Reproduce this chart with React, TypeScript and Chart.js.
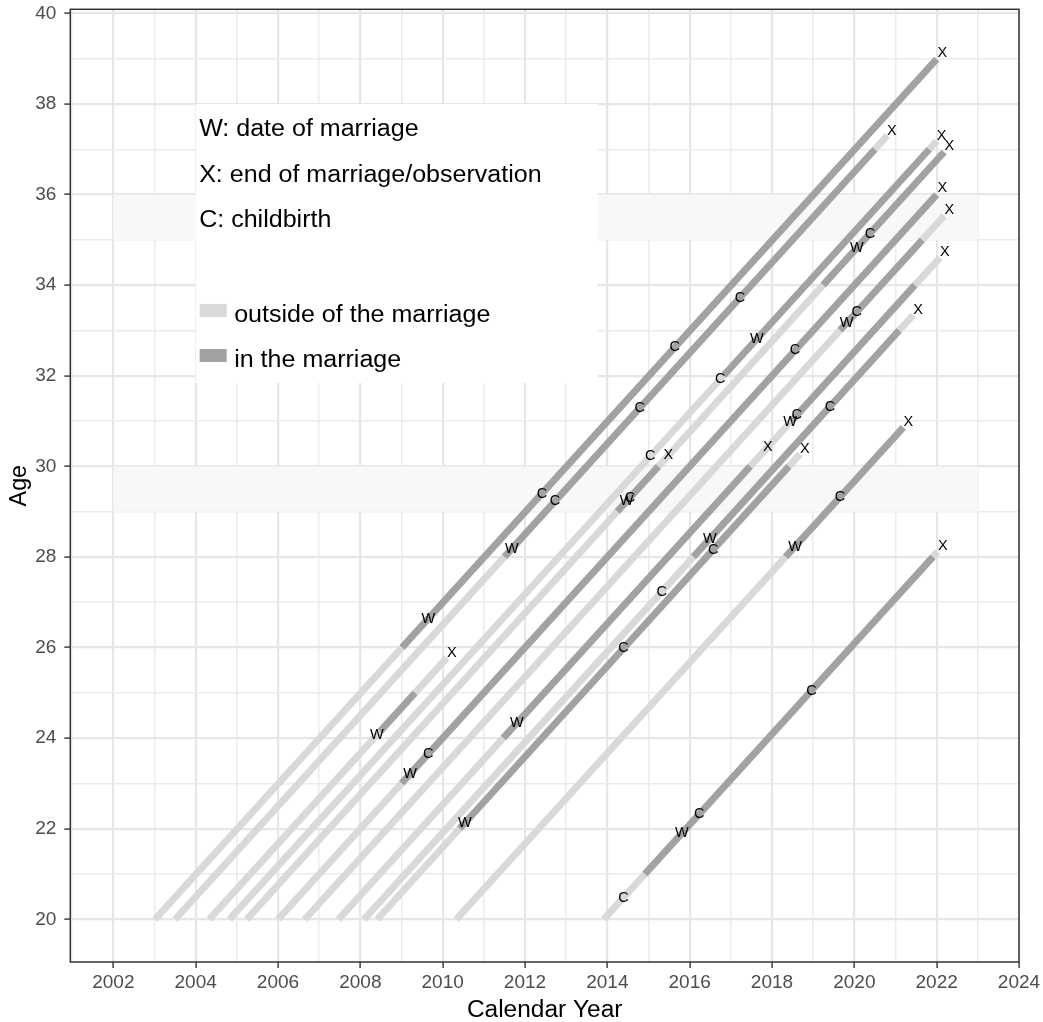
import React, { useEffect, useRef } from 'react';
import { Chart, registerables } from 'chart.js';

Chart.register(...registerables);

// ---------------- data ----------------
// calendar year at which each person is 20 (start of observation)
const personStart = [2003.01, 2003.5, 2004.33, 2004.82, 2005.24, 2006.0, 2006.65, 2007.47, 2008.09, 2008.41, 2010.33, 2013.91];

// breakpoints (calendar years) of the coloured pieces of each life line
const segmentBreaks = [
  [2003.01, 2009.01, 2022.0],
  [2003.5, 2011.5, 2020.5, 2020.8],
  [2004.33, 2008.48, 2009.33, 2010.1],
  [2004.82, 2016.82, 2021.82, 2022.0],
  [2005.24, 2014.24, 2015.24, 2019.24, 2022.18],
  [2006.0, 2009.0, 2022.0],
  [2006.65, 2019.65, 2021.65, 2022.18],
  [2007.47, 2011.47, 2017.47, 2018.47, 2021.47, 2022.08],
  [2008.09, 2016.09, 2021.09, 2021.43],
  [2008.41, 2010.41, 2018.41, 2018.68],
  [2010.33, 2018.33, 2021.19],
  [2013.91, 2014.91, 2021.91, 2022.02],
];
// 0 = outside of the marriage, 1 = in the marriage
const segmentStatus = [
  [0, 1],
  [0, 1, 0],
  [0, 1, 0],
  [0, 1, 0],
  [0, 1, 0, 1],
  [0, 1],
  [0, 1, 0],
  [0, 1, 0, 1, 0],
  [0, 1, 0],
  [0, 1, 0],
  [0, 1],
  [0, 1, 0],
];

// events (W marriage, X end, C childbirth)
const eventPerson = [
  0, 0, 0, 0,
  1, 1, 1, 1, 1,
  2, 2,
  3, 3, 3, 3,
  4, 4, 4, 4, 4, 4,
  5, 5, 5, 5,
  6, 6, 6,
  7, 7, 7, 7, 7,
  8, 8, 8, 8,
  9, 9, 9, 9,
  10, 10, 10,
  11, 11, 11, 11, 11,
];
const eventYear = [
  2009.65, 2012.41, 2015.64, 2022.14,
  2011.68, 2012.73, 2014.79, 2017.22, 2020.91,
  2008.4, 2010.22,
  2015.04, 2016.74, 2017.63, 2022.12,
  2014.47, 2014.55, 2015.48, 2020.06, 2020.38, 2022.31,
  2009.21, 2009.65, 2018.56, 2022.14,
  2019.81, 2020.06, 2022.31,
  2011.8, 2017.9, 2018.44, 2018.6, 2022.2,
  2015.32, 2016.49, 2019.41, 2021.55,
  2010.54, 2014.39, 2016.57, 2018.8,
  2018.56, 2019.65, 2021.31,
  2014.39, 2015.81, 2016.23, 2018.96, 2022.15,
];
const eventType = [
  'W', 'C', 'C', 'X',
  'W', 'C', 'C', 'C', 'X',
  'W', 'X',
  'C', 'C', 'W', 'X',
  'W', 'C', 'X', 'W', 'C', 'X',
  'W', 'C', 'C', 'X',
  'W', 'C', 'X',
  'W', 'X', 'W', 'C', 'X',
  'C', 'W', 'C', 'X',
  'W', 'C', 'C', 'X',
  'W', 'C', 'X',
  'C', 'W', 'C', 'C', 'X',
];

const xTickLabels = ['2002', '2004', '2006', '2008', '2010', '2012', '2014', '2016', '2018', '2020', '2022', '2024'];
const yTickLabels = ['20', '22', '24', '26', '28', '30', '32', '34', '36', '38', '40'];

const legendNotes = ['W: date of marriage', 'X: end of marriage/observation', 'C: childbirth'];
const legendKeys = ['outside of the marriage', 'in the marriage'];

const xTitle = 'Calendar Year';
const yTitle = 'Age';

// ---------------- styles ----------------
const FONT = "'Liberation Sans', Arial, Helvetica, sans-serif";
const LIGHT = '#d9d9d9';
const DARK = '#a2a2a2';
const GRID = '#ebebeb';
const BORDER = '#333333';
const shadeBands = [
  [35, 36],
  [29, 30],
];
const shadeFrom = 2002;
const shadeTo = 2023;

function drawText(
  ctx: CanvasRenderingContext2D,
  text: string,
  x: number,
  y: number,
  size: number,
  align: CanvasTextAlign = 'left',
  sx = 1.075,
  baseline: CanvasTextBaseline = 'alphabetic',
) {
  ctx.save();
  ctx.translate(x, y);
  ctx.scale(sx, 1);
  ctx.font = `${size}px ${FONT}`;
  ctx.textAlign = align;
  ctx.textBaseline = baseline;
  ctx.fillText(text, 0, 0);
  ctx.restore();
}

const decorPlugin = {
  id: 'decor',
  beforeDatasetsDraw(chart: any) {
    const { ctx, scales } = chart;
    const x = scales.x;
    const y = scales.y;
    ctx.save();
    // faint bands
    ctx.fillStyle = '#f8f8f8';
    shadeBands.forEach(([a0, a1]) => {
      const l = x.getPixelForValue(shadeFrom);
      const r = x.getPixelForValue(shadeTo);
      const t = y.getPixelForValue(a1);
      const b = y.getPixelForValue(a0);
      ctx.fillRect(l, t, r - l, b - t);
    });
    // legend box
    const left = x.getPixelForValue(2004);
    const top = y.getPixelForValue(38);
    ctx.fillStyle = '#ffffff';
    ctx.fillRect(left, top, 402, 279);
    ctx.fillStyle = '#000000';
    const noteBase = [32, 77.7, 122.7];
    legendNotes.forEach((t, i) => drawText(ctx, t, left + 3.5, top + noteBase[i], 23.3));
    const keyTop = [200, 245];
    const keyBase = [217.7, 262.7];
    legendKeys.forEach((t, i) => {
      ctx.fillStyle = i === 0 ? LIGHT : DARK;
      ctx.fillRect(left + 4, top + keyTop[i], 27, 13);
      ctx.fillStyle = '#000000';
      drawText(ctx, t, left + 38.5, top + keyBase[i], 23.3);
    });
    ctx.restore();
  },
  afterDatasetsDraw(chart: any) {
    const { ctx, scales, chartArea } = chart;
    const x = scales.x;
    const y = scales.y;
    ctx.save();
    ctx.fillStyle = '#000000';
    eventYear.forEach((yr, i) => {
      const p = eventPerson[i];
      const age = 20 + yr - personStart[p];
      const px = x.getPixelForValue(yr);
      const py = y.getPixelForValue(age);
      drawText(ctx, eventType[i], px, py, 14.5, 'center', 1.0, 'middle');
    });
    // panel border
    ctx.strokeStyle = BORDER;
    ctx.lineWidth = 1.5;
    ctx.strokeRect(chartArea.left, chartArea.top, chartArea.right - chartArea.left, chartArea.bottom - chartArea.top);
    ctx.restore();
  },
  afterDraw(chart: any) {
    const { ctx, chartArea } = chart;
    ctx.save();
    ctx.fillStyle = '#000000';
    const cx = (chartArea.left + chartArea.right) / 2;
    drawText(ctx, xTitle, cx, 1016.5, 23.3, 'center', 1.05);
    const cy = (chartArea.top + chartArea.bottom) / 2;
    ctx.translate(26, cy);
    ctx.rotate(-Math.PI / 2);
    ctx.font = `23.3px ${FONT}`;
    ctx.textAlign = 'center';
    ctx.textBaseline = 'alphabetic';
    ctx.fillText(yTitle, 0, 0);
    ctx.restore();
  },
};

const isMajor = (c: any) => c.tick && Math.abs(Math.round(c.tick.value) % 2) === 0;

export default function App() {
  const ref = useRef<HTMLCanvasElement>(null);
  useEffect(() => {
    const canvas = ref.current;
    if (!canvas) return;
    const datasets: any[] = [];
    personStart.forEach((start, p) => {
      const br = segmentBreaks[p];
      for (let k = 0; k < br.length - 1; k++) {
        const col = segmentStatus[p][k] ? DARK : LIGHT;
        datasets.push({
          data: [
            { x: br[k], y: 20 + br[k] - start },
            { x: br[k + 1], y: 20 + br[k + 1] - start },
          ],
          borderColor: col,
          backgroundColor: col,
          borderWidth: 7,
          borderCapStyle: 'butt',
          pointRadius: 0,
          pointHoverRadius: 0,
          showLine: true,
          tension: 0,
        });
      }
    });

    const gridCfg = {
      color: (c: any) => (isMajor(c) ? '#e6e6e6' : GRID),
      lineWidth: (c: any) => (isMajor(c) ? 2.2 : 1.5),
      drawTicks: true,
      tickLength: 6,
      tickWidth: 1.4,
      tickColor: (c: any) => (isMajor(c) ? BORDER : 'rgba(0,0,0,0)'),
    };

    const chart = new Chart(canvas, {
      type: 'scatter',
      data: { datasets },
      plugins: [decorPlugin],
      options: {
        animation: false,
        responsive: false,
        events: [],
        layout: { padding: { top: 9.3, right: 24, left: 0, bottom: 0 } },
        plugins: {
          legend: { display: false },
          tooltip: { enabled: false },
          title: { display: false },
        },
        scales: {
          x: {
            type: 'linear',
            min: 2000.955,
            max: 2024.0,
            afterFit: (s: any) => {
              s.height = 60;
              s.paddingLeft = 0;
              s.paddingRight = 0;
              s.paddingTop = 0;
              s.paddingBottom = 0;
            },
            border: { display: false },
            grid: gridCfg as any,
            ticks: {
              stepSize: 1,
              autoSkip: false,
              includeBounds: false,
              maxRotation: 0,
              minRotation: 0,
              padding: 3,
              color: '#4d4d4d',
              font: { family: FONT, size: 19 },
              callback: (v: any) => (xTickLabels.includes(String(v)) ? String(v) : ''),
            },
          },
          y: {
            type: 'linear',
            min: 19.058,
            max: 40.09,
            afterFit: (s: any) => {
              s.width = 70.3;
              s.paddingLeft = 0;
              s.paddingRight = 0;
              s.paddingTop = 0;
              s.paddingBottom = 0;
            },
            border: { display: false },
            grid: gridCfg as any,
            ticks: {
              stepSize: 1,
              autoSkip: false,
              includeBounds: false,
              padding: 8,
              color: '#4d4d4d',
              font: { family: FONT, size: 19 },
              callback: (v: any) => (yTickLabels.includes(String(v)) ? String(v) : ''),
            },
          },
        },
      } as any,
    });
    return () => chart.destroy();
  }, []);

  return (
    <div style={{ position: 'absolute', left: 0, top: 0, width: 1043, height: 1022, background: '#ffffff' }}>
      <canvas ref={ref} width={1043} height={1022} style={{ display: 'block' }} />
    </div>
  );
}
